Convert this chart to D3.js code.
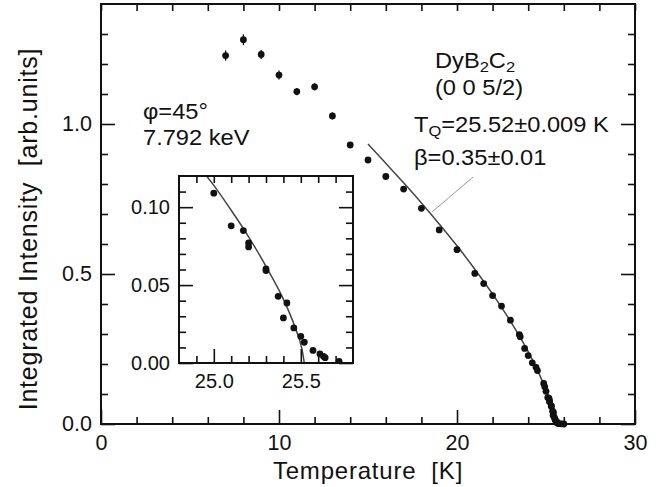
<!DOCTYPE html>
<html>
<head>
<meta charset="utf-8">
<script src="https://cdn.jsdelivr.net/npm/d3@7"></script>
<style>
  body { margin: 0; background: #fff; }
  svg { display: block; font-family: "Liberation Sans", Arial, Helvetica, sans-serif; }
  .tick text { fill: #111; }
  .tick line { stroke: #111; stroke-width: 1.6; }
</style>
</head>
<body>
<div id="chart"></div>
<script>
// measured points (temperature in K, integrated intensity)
const temps = [7, 8, 9, 10, 11, 12, 13, 14, 15, 16, 17, 18, 19, 20, 21, 21.5, 22, 22.5, 23, 23.5, 23.55,
  23.8, 24.0, 24.23, 24.44, 24.52, 24.87, 24.93, 25.0, 25.1, 25.17, 25.2, 25.2, 25.3, 25.3, 25.37,
  25.4, 25.42, 25.46, 25.5, 25.52, 25.57, 25.61, 25.63, 25.64, 25.72, 25.85, 26.0];
const intens = [1.228, 1.281, 1.232, 1.163, 1.108, 1.124, 1.027, 0.930, 0.880, 0.825, 0.783, 0.719, 0.647,
  0.581, 0.502, 0.468, 0.428, 0.393, 0.346, 0.298, 0.291, 0.252, 0.228, 0.204, 0.189, 0.178, 0.135,
  0.124, 0.109, 0.088, 0.085, 0.077, 0.0745, 0.0604, 0.0593, 0.0428, 0.0289, 0.0385, 0.0225, 0.0171,
  0.0133, 0.0081, 0.0058, 0.0043, 0.0034, 0.0011, 0.0005, 0.0];
const errs = [0.017, 0.018, 0.015, 0.015, 0.012, 0.012, 0.012];

// power-law fit line
const fitT = [15, 16, 17, 18, 19, 20, 21, 22, 23, 24, 24.5, 24.9, 25.0, 25.1, 25.2, 25.3, 25.4, 25.45,
  25.48, 25.5, 25.51, 25.52];
const fitI = [0.933, 0.869, 0.804, 0.737, 0.667, 0.594, 0.516, 0.433, 0.343, 0.241, 0.182, 0.128, 0.114,
  0.098, 0.081, 0.062, 0.041, 0.028, 0.019, 0.012, 0.007, 0];

const xTicks = [0, 10, 20, 30];
const yTicks = [0.0, 0.5, 1.0];
const insetXTicks = [25.0, 25.5];
const insetYTicks = [0.0, 0.05, 0.10];

const width = 665, height = 487;
const svg = d3.select('#chart').append('svg')
  .attr('width', width).attr('height', height);

const plot = { left: 101, right: 635, top: 4, bottom: 424 };
const x = d3.scaleLinear().domain([0, 30]).range([plot.left, plot.right]);
const y = d3.scaleLinear().domain([0, 1.4]).range([plot.bottom, plot.top]);

const points = temps.map((t, i) => ({ t, v: intens[i], e: errs[i] || 0.006 }));
const fit = fitT.map((t, i) => ({ t, v: fitI[i] }));

// ticks, inward on all sides
function drawAxes(g, xs, ys, xMinor, yMinor, xMajor, yMajor, xFmt, yFmt, box, fs) {
  const w = box.right - box.left, h = box.bottom - box.top;
  g.append('g').attr('transform', `translate(0,${box.bottom})`)
    .call(d3.axisBottom(xs).tickValues(xMinor).tickSize(-7).tickFormat(''));
  g.append('g').attr('transform', `translate(0,${box.bottom})`)
    .call(d3.axisBottom(xs).tickValues(xMajor).tickSize(-14).tickPadding(11).tickFormat(xFmt));
  g.append('g').attr('transform', `translate(0,${box.top})`)
    .call(d3.axisTop(xs).tickValues(xMinor.concat(xMajor)).tickSize(-7).tickFormat(''));
  g.append('g').attr('transform', `translate(${box.left},0)`)
    .call(d3.axisLeft(ys).tickValues(yMinor).tickSize(-7).tickFormat(''));
  g.append('g').attr('transform', `translate(${box.left},0)`)
    .call(d3.axisLeft(ys).tickValues(yMajor).tickSize(-14).tickPadding(9).tickFormat(yFmt));
  g.append('g').attr('transform', `translate(${box.right},0)`)
    .call(d3.axisRight(ys).tickValues(yMinor).tickSize(-7).tickFormat(''));
  g.append('g').attr('transform', `translate(${box.right},0)`)
    .call(d3.axisRight(ys).tickValues(yMajor).tickSize(-14).tickFormat(''));
  g.selectAll('.domain').remove();
  g.selectAll('.tick text').attr('font-size', fs);
  g.append('rect')
    .attr('x', box.left).attr('y', box.top).attr('width', w).attr('height', h)
    .attr('fill', 'none').attr('stroke', '#111').attr('stroke-width', 2);
}

const main = svg.append('g');
drawAxes(main, x, y,
  d3.range(2, 30, 2).filter(d => d % 10 !== 0),
  d3.range(1, 14).map(d => d / 10).filter(d => d !== 0.5 && d !== 1.0),
  xTicks, yTicks, d3.format('d'), d3.format('.1f'), plot, 21.5);

// fit curve
const line = (xs, ys) => d3.line().x(d => xs(d.t)).y(d => ys(d.v)).curve(d3.curveMonotoneX);
main.append('path').datum(fit)
  .attr('d', line(x, y))
  .attr('fill', 'none').attr('stroke', '#444').attr('stroke-width', 1.5);

// error bars and points
main.append('g').selectAll('line').data(points).join('line')
  .attr('x1', d => x(d.t)).attr('x2', d => x(d.t))
  .attr('y1', d => y(d.v - d.e)).attr('y2', d => y(d.v + d.e))
  .attr('stroke', '#111').attr('stroke-width', 1.3);
main.append('g').selectAll('circle').data(points).join('circle')
  .attr('cx', d => x(d.t)).attr('cy', d => y(d.v)).attr('r', 3.4)
  .attr('fill', '#111');

// leader line from the fit label to the curve
main.append('line')
  .attr('x1', x(20.9)).attr('y1', y(0.823))
  .attr('x2', x(18.6)).attr('y2', y(0.707))
  .attr('stroke', '#999').attr('stroke-width', 1);

// annotations (the scan is a little wide, so glyphs are stretched)
const note = (tx, ty) => main.append('text')
  .attr('transform', `translate(${tx},${ty}) scale(1.1,1)`)
  .attr('font-size', 21.5).attr('fill', '#111').style('white-space', 'pre');
note(143, 119).text('φ=45°');
note(143, 145).text('7.792 keV');
const dy = note(435, 68);
dy.append('tspan').text('DyB');
dy.append('tspan').attr('font-size', 15).attr('baseline-shift', '-25%').text('2');
dy.append('tspan').text('C');
dy.append('tspan').attr('font-size', 15).attr('baseline-shift', '-25%').text('2');
note(435, 95).text('(0 0 5/2)');
const tq = note(414, 132);
tq.append('tspan').text('T');
tq.append('tspan').attr('font-size', 15).attr('baseline-shift', '-25%').text('Q');
tq.append('tspan').text('=25.52±0.009 K');
note(414, 165).text('β=0.35±0.01');

// axis titles
svg.append('text')
  .attr('x', (plot.left + plot.right) / 2).attr('y', 479)
  .attr('text-anchor', 'middle').attr('font-size', 24).attr('letter-spacing', 0.8)
  .style('white-space', 'pre').attr('fill', '#111')
  .text('Temperature  [K]');
svg.append('text')
  .attr('transform', 'translate(37,229) rotate(-90)')
  .attr('text-anchor', 'middle').attr('font-size', 25).attr('letter-spacing', 0.8)
  .style('white-space', 'pre').attr('fill', '#111')
  .text('Integrated Intensity  [arb.units]');

// inset
const box = { left: 179, right: 353, top: 176, bottom: 363 };
const ix = d3.scaleLinear().domain([24.8, 25.8]).range([box.left, box.right]);
const iy = d3.scaleLinear().domain([0, 0.12]).range([box.bottom, box.top]);
const inset = svg.append('g');
inset.append('rect')
  .attr('x', box.left).attr('y', box.top)
  .attr('width', box.right - box.left).attr('height', box.bottom - box.top)
  .attr('fill', '#fff');
svg.append('clipPath').attr('id', 'insetClip').append('rect')
  .attr('x', box.left).attr('y', box.top)
  .attr('width', box.right - box.left).attr('height', box.bottom - box.top);

const inner = inset.append('g').attr('clip-path', 'url(#insetClip)');
inner.append('path').datum(fit)
  .attr('d', line(ix, iy))
  .attr('fill', 'none').attr('stroke', '#444').attr('stroke-width', 1.5);
inner.append('g').selectAll('circle')
  .data(points.filter(d => d.t >= 24.8 && d.t <= 25.8)).join('circle')
  .attr('cx', d => ix(d.t)).attr('cy', d => iy(d.v)).attr('r', 3.4)
  .attr('fill', '#111');

drawAxes(inset, ix, iy,
  d3.range(249, 258).map(d => d / 10).filter(d => d !== 25.0 && d !== 25.5),
  d3.range(1, 12).map(d => d / 100).filter(d => d !== 0.05 && d !== 0.10),
  insetXTicks, insetYTicks, d3.format('.1f'), d3.format('.2f'), box, 20);
</script>
</body>
</html>
